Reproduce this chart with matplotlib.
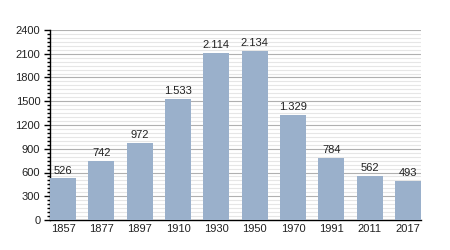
import numpy as np
import matplotlib.pyplot as plt
from matplotlib.ticker import MultipleLocator

plt.rcParams['font.family'] = ['Liberation Sans', 'DejaVu Sans']

# population by census year
years = ["1857", "1877", "1897", "1910", "1930", "1950", "1970", "1991", "2011", "2017"]
population = [526, 742, 972, 1533, 2114, 2134, 1329, 784, 562, 493]
value_labels = ["526", "742", "972", "1.533", "2.114", "2.134", "1.329", "784", "562", "493"]

bar_color = "#9ab0cb"

fig = plt.figure(figsize=(4.5, 2.5), dpi=100)
ax = fig.add_axes([50 / 450, 30 / 250, 371 / 450, 190 / 250])

x = np.arange(len(years))
w = 0.68
ax.bar(x, population, width=w, color=bar_color, zorder=3)

for xi, v, lab in zip(x, population, value_labels):
    ax.text(xi, v + 35, lab, ha="center", va="bottom", fontsize=8, color="#222222")

ax.set_xlim(-w / 2, len(years) - 1 + w / 2)
ax.set_ylim(0, 2400)
ax.yaxis.set_major_locator(MultipleLocator(300))
ax.yaxis.set_minor_locator(MultipleLocator(50))
ax.grid(axis="y", which="major", color="#b0b0b0", linewidth=0.8, zorder=0)
ax.grid(axis="y", which="minor", color="#e6e6e6", linewidth=0.8, zorder=0)

ax.set_xticks(x)
ax.set_xticklabels(years)
ax.tick_params(axis="x", length=0, labelsize=8, pad=3, labelcolor="#222222")
ax.tick_params(axis="y", which="major", length=4, width=1, labelsize=8, pad=3, labelcolor="#222222")
ax.tick_params(axis="y", which="minor", length=2, width=1)

for s in ["top", "right"]:
    ax.spines[s].set_visible(False)
ax.spines["left"].set_linewidth(1)
ax.spines["bottom"].set_linewidth(1)

fig.savefig("out.png", dpi=100)
